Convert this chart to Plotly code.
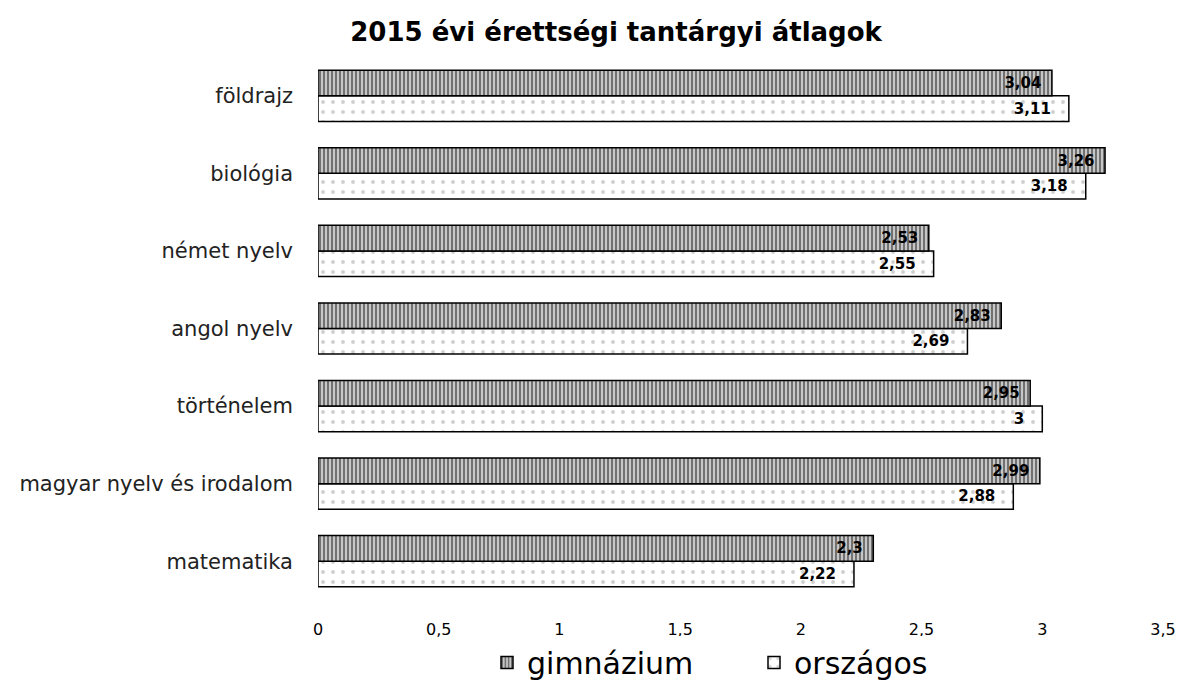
import plotly.graph_objects as go

categories = ["matematika", "magyar nyelv és irodalom", "történelem", "angol nyelv",
              "német nyelv", "biológia", "földrajz"]
gimnazium = [2.3, 2.99, 2.95, 2.83, 2.53, 3.26, 3.04]
orszagos = [2.22, 2.88, 3, 2.69, 2.55, 3.18, 3.11]
series_names = ["gimnázium", "országos"]
x_ticks = [0, 0.5, 1, 1.5, 2, 2.5, 3, 3.5]

FONT = "DejaVu Sans"

def fmt(v, pad):
    return ("%g" % v).replace(".", ",") + pad

fig = go.Figure()
fig.add_trace(go.Bar(
    y=categories, x=orszagos, orientation="h", name=series_names[1],
    text=[fmt(v, "\u2003") for v in orszagos], textposition="inside", insidetextanchor="end",
    textfont=dict(family=FONT, size=15, color="black", weight="bold"),
    marker=dict(color="white", line=dict(color="black", width=1.5),
                pattern=dict(shape=".", fgcolor="#a0a0a0", bgcolor="white", size=10, solidity=0.12)),
    legendrank=2,
))
fig.add_trace(go.Bar(
    y=categories, x=gimnazium, orientation="h", name=series_names[0],
    text=[fmt(v, "\u2002") for v in gimnazium], textposition="inside", insidetextanchor="end",
    textfont=dict(family=FONT, size=15, color="black", weight="bold"),
    marker=dict(color="white", line=dict(color="black", width=1.5),
                pattern=dict(shape="|", fgcolor="#111111", bgcolor="#d0d0d0", size=4, solidity=0.55)),
    legendrank=1,
))

fig.update_layout(
    width=1190, height=693,
    barmode="group", bargap=0.34, bargroupgap=0.0,
    separators=", ",
    paper_bgcolor="white", plot_bgcolor="white",
    margin=dict(l=310, r=35, t=49, b=99),
    font=dict(family=FONT, color="black"),
    title=dict(text="<b>2015 évi érettségi tantárgyi átlagok</b>", x=0.511, xanchor="center",
               y=0.965, yanchor="middle", font=dict(size=26, family=FONT)),
    xaxis=dict(range=[0, 3.5], tickvals=x_ticks, showgrid=False, zeroline=False,
               showline=False, ticks="", tickfont=dict(size=16, family=FONT), ticklabelstandoff=18),
    yaxis=dict(showgrid=False, zeroline=False, showline=False, ticks="",
               tickfont=dict(size=21, family=FONT, color="#222"), ticklabelstandoff=24),
    legend=dict(orientation="h", x=0.2, xanchor="left", y=-0.115, yanchor="middle",
                font=dict(size=30, family=FONT), itemwidth=30, entrywidth=222, entrywidthmode="pixels"),
    showlegend=True,
)

fig.write_html("out.html")
